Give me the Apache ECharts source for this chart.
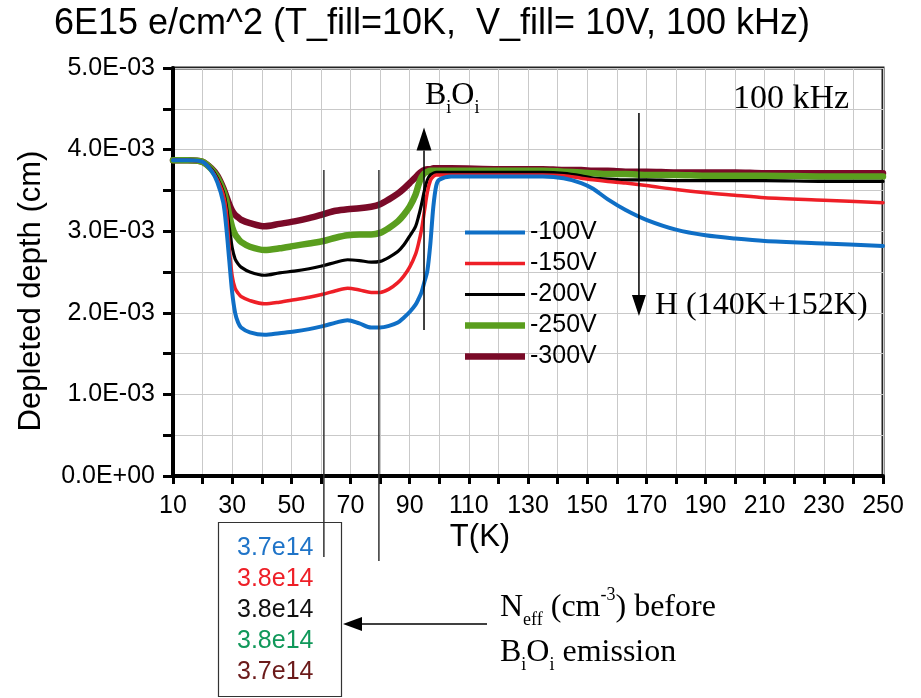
<!DOCTYPE html>
<html>
<head>
<meta charset="utf-8">
<title>Depleted depth vs temperature</title>
<script src="https://cdn.jsdelivr.net/npm/echarts@6/dist/echarts.min.js"></script>
<style>
  html, body { margin: 0; padding: 0; background: #fff; }
  #chart { width: 921px; height: 698px; }
</style>
</head>
<body>
<div id="chart"></div>
<script>
// Temperature grid (K) shared by all bias curves
const temperatures = [10, 15, 20, 23, 25, 27, 28, 29, 30, 31, 32, 33, 36, 41, 46, 51, 56, 61, 65, 69, 73,
  77, 80, 83, 86, 88, 90, 92, 93, 94, 95, 96, 97, 98, 99, 100, 104, 120, 135, 142, 148,
  152, 157, 163, 170, 180, 190, 200, 210, 230, 250];

// Depleted depth, in units of 1e-3 cm
const depth100V = [3.87, 3.87, 3.85, 3.74, 3.60, 3.35, 3.05, 2.65, 2.25, 2.00, 1.88, 1.82, 1.76, 1.73, 1.75, 1.77, 1.80, 1.84, 1.88, 1.91, 1.87,
  1.82, 1.82, 1.84, 1.88, 1.94, 2.01, 2.10, 2.17, 2.25, 2.38, 2.52, 2.85, 3.30, 3.56, 3.63, 3.67, 3.67, 3.67, 3.65, 3.59,
  3.52, 3.39, 3.26, 3.14, 3.02, 2.95, 2.91, 2.88, 2.85, 2.82];
const depth150V = [3.87, 3.87, 3.85, 3.75, 3.63, 3.45, 3.25, 2.80, 2.45, 2.30, 2.24, 2.20, 2.15, 2.11, 2.13, 2.16, 2.19, 2.23, 2.27, 2.30, 2.28,
  2.25, 2.25, 2.29, 2.37, 2.45, 2.56, 2.72, 2.85, 3.02, 3.25, 3.48, 3.62, 3.67, 3.69, 3.69, 3.69, 3.69, 3.69, 3.68, 3.65,
  3.63, 3.61, 3.59, 3.56, 3.51, 3.47, 3.44, 3.41, 3.38, 3.35];
const depth200V = [3.87, 3.87, 3.85, 3.76, 3.65, 3.48, 3.32, 3.05, 2.80, 2.66, 2.60, 2.56, 2.50, 2.46, 2.49, 2.51, 2.54, 2.58, 2.62, 2.65, 2.64,
  2.62, 2.63, 2.68, 2.75, 2.83, 2.94, 3.06, 3.18, 3.33, 3.50, 3.63, 3.69, 3.71, 3.72, 3.72, 3.72, 3.72, 3.72, 3.71, 3.68,
  3.65, 3.64, 3.63, 3.63, 3.62, 3.62, 3.62, 3.62, 3.61, 3.61];
const depth250V = [3.87, 3.87, 3.85, 3.76, 3.66, 3.50, 3.38, 3.20, 3.05, 2.96, 2.91, 2.87, 2.81, 2.77, 2.79, 2.82, 2.85, 2.88, 2.92, 2.95, 2.96,
  2.96, 2.98, 3.04, 3.12, 3.20, 3.30, 3.45, 3.57, 3.66, 3.71, 3.73, 3.74, 3.74, 3.74, 3.74, 3.74, 3.74, 3.74, 3.73, 3.72,
  3.71, 3.70, 3.70, 3.69, 3.69, 3.68, 3.68, 3.68, 3.67, 3.67];
const depth300V = [3.87, 3.87, 3.85, 3.77, 3.68, 3.53, 3.43, 3.33, 3.25, 3.20, 3.17, 3.14, 3.10, 3.06, 3.09, 3.12, 3.16, 3.21, 3.25, 3.27, 3.28,
  3.30, 3.33, 3.39, 3.46, 3.52, 3.59, 3.66, 3.70, 3.73, 3.75, 3.76, 3.76, 3.77, 3.77, 3.77, 3.77, 3.76, 3.76, 3.75, 3.75,
  3.74, 3.74, 3.73, 3.73, 3.72, 3.72, 3.72, 3.71, 3.71, 3.71];

const biasLabels = ['-100V', '-150V', '-200V', '-250V', '-300V'];
const biasDepths = [depth100V, depth150V, depth200V, depth250V, depth300V];
const biasColors = ['#0f6fc6', '#ee1f27', '#000000', '#5a9e1e', '#7a0a28'];
const biasWidths = [4, 3.5, 3.2, 6.5, 6.5];

// Effective doping before BiOi emission, one per bias
const neffLabels = ['3.7e14', '3.8e14', '3.8e14', '3.8e14', '3.7e14'];
const neffColors = ['#1f74c8', '#ee1f27', '#111111', '#10985a', '#6b1a1a'];

const CM_PER_UNIT = 1e-3;
const SANS = '"Liberation Sans", Arial, sans-serif';
const SERIF = '"Liberation Serif", "Times New Roman", serif';

const chart = echarts.init(document.getElementById('chart'));

// Draw the low-bias curves last so they sit on top where curves coincide
const series = biasLabels.map((name, k) => ({
  name,
  type: 'line',
  data: temperatures.map((t, i) => [t, biasDepths[k][i] * CM_PER_UNIT]),
  symbol: 'none',
  showSymbol: false,
  smooth: 0.3,
  lineStyle: { color: biasColors[k], width: biasWidths[k], join: 'round', cap: 'round' },
  itemStyle: { color: biasColors[k] },
  z: 10 - k
})).reverse();

// Legend swatches: flat bars as thick as each curve
const legendData = biasLabels.map((name, k) => ({
  name,
  icon: 'path://M0,0H60V' + biasWidths[k] + 'H0Z',
  itemStyle: { color: biasColors[k] }
}));

const option = {
  animation: false,
  backgroundColor: '#fff',
  title: {
    text: '6E15 e/cm^2 (T_fill=10K,  V_fill= 10V, 100 kHz)',
    left: 49, top: 1,
    textStyle: { fontFamily: SANS, fontSize: 36, fontWeight: 'normal', color: '#000' }
  },
  grid: {
    left: 173, right: 38, top: 68, bottom: 222,
    show: true, borderColor: '#222', borderWidth: 3, backgroundColor: 'transparent'
  },
  legend: {
    data: legendData,
    orient: 'vertical',
    left: 460, top: 215,
    itemWidth: 60, itemHeight: 14, itemGap: 6,
    symbolKeepAspect: true,
    textStyle: { fontFamily: SANS, fontSize: 25, color: '#000' },
    selectedMode: false
  },
  xAxis: {
    type: 'value', min: 10, max: 250, interval: 10,
    axisLine: { lineStyle: { color: '#000', width: 4 } },
    axisTick: { show: true, length: 8, lineStyle: { color: '#000', width: 3 } },
    axisLabel: {
      margin: 18, color: '#000', fontFamily: SANS, fontSize: 25,
      formatter: v => ((v - 10) % 20 === 0 ? String(v) : '')
    },
    splitLine: { show: true, lineStyle: { color: '#c9c9c9', width: 1 } }
  },
  yAxis: {
    type: 'value', min: 0, max: 0.005, interval: 0.0005,
    axisLine: { lineStyle: { color: '#000', width: 4 } },
    axisTick: { show: true, length: 10, lineStyle: { color: '#000', width: 3 } },
    axisLabel: {
      margin: 18, color: '#000', fontFamily: SANS, fontSize: 25,
      formatter: v => {
        const k = Math.round(v * 1e4);
        if (k % 10 !== 0) return '';
        if (k === 0) return '0.0E+00';
        return (k / 10).toFixed(1) + 'E-03';
      }
    },
    splitLine: { show: true, lineStyle: { color: '#c9c9c9', width: 1 } }
  },
  series
};

chart.setOption(option);

// ---- annotations ----
const toPx = (t, d) => chart.convertToPixel({ gridIndex: 0 }, [t, d * CM_PER_UNIT]);

const richSub = {
  b: { fontFamily: SERIF, fontSize: 32, lineHeight: 32, verticalAlign: 'top', padding: [6, 0, 0, 0], color: '#000' },
  s: { fontFamily: SERIF, fontSize: 18, lineHeight: 18, verticalAlign: 'top', padding: [25, 0, 0, 0], color: '#000' },
  p: { fontFamily: SERIF, fontSize: 18, lineHeight: 18, verticalAlign: 'top', padding: [0, 0, 0, 0], color: '#000' }
};

function vArrow(x, yFrom, yTip, headLen, headHalf) {
  const dir = yTip < yFrom ? 1 : -1;
  const yBase = yTip + dir * headLen;
  return [
    { type: 'line', shape: { x1: x, y1: yFrom, x2: x, y2: yBase }, style: { stroke: '#000', lineWidth: 1.5 }, z: 50 },
    { type: 'polygon', shape: { points: [[x, yTip], [x - headHalf, yBase], [x + headHalf, yBase]] }, style: { fill: '#000' }, z: 50 }
  ];
}

const guideA = toPx(61.0, 3.75);
const guideB = toPx(79.6, 3.75);
const biArrowBottom = toPx(94.85, 1.79);
const biArrowTip = toPx(94.85, 4.27);
const hArrowTop = toPx(167.5, 4.45);
const hArrowTip = toPx(167.5, 1.96);

const graphics = [
  {
    type: 'text', z: 60, rotation: Math.PI / 2, x: 31, y: 291,
    style: { text: 'Depleted depth (cm)', font: '31px ' + SANS, fill: '#000', align: 'center', verticalAlign: 'middle' }
  },
  { type: 'line', shape: { x1: guideA[0], y1: guideA[1], x2: guideA[0], y2: 557 }, style: { stroke: '#333', lineWidth: 1.5 }, z: 50 },
  { type: 'line', shape: { x1: guideB[0], y1: guideB[1], x2: guideB[0], y2: 561 }, style: { stroke: '#333', lineWidth: 1.5 }, z: 50 },
  ...vArrow(biArrowBottom[0], biArrowBottom[1], biArrowTip[1], 23, 7.5),
  ...vArrow(hArrowTop[0], hArrowTop[1], hArrowTip[1], 21, 7),
  {
    type: 'text', z: 60,
    style: { x: biArrowTip[0] + 1, y: 74, text: '{b|B}{s|i}{b|O}{s|i}', rich: richSub }
  },
  {
    type: 'text', z: 60,
    style: { x: 733, y: 99, text: '100 kHz', font: '34px ' + SERIF, fill: '#000', verticalAlign: 'middle' }
  },
  {
    type: 'text', z: 60,
    style: { x: hArrowTop[0] + 16, y: 306, text: 'H (140K+152K)', font: '32px ' + SERIF, fill: '#000', verticalAlign: 'middle' }
  },
  {
    type: 'text', z: 60,
    style: { x: 480, y: 537, text: 'T(K)', font: '31px ' + SANS, fill: '#000', align: 'center', verticalAlign: 'middle' }
  },
  // doping box
  { type: 'rect', shape: { x: 218.5, y: 522.5, width: 123, height: 174 }, style: { fill: 'none', stroke: '#333', lineWidth: 1.2 }, z: 40 },
  ...neffLabels.map((txt, i) => ({
    type: 'text', z: 60,
    style: { x: 237, y: 548 + i * 31, text: txt, font: '25px ' + SANS, fill: neffColors[i], verticalAlign: 'middle' }
  })),
  // arrow pointing at the box
  { type: 'line', shape: { x1: 487, y1: 624, x2: 362, y2: 624 }, style: { stroke: '#000', lineWidth: 1.5 }, z: 50 },
  { type: 'polygon', shape: { points: [[343, 624], [362, 617], [362, 631]] }, style: { fill: '#000' }, z: 50 },
  {
    type: 'text', z: 60,
    style: { x: 500, y: 586, text: '{b|N}{s|eff}{b| (cm}{p|-3}{b|) before}', rich: richSub }
  },
  {
    type: 'text', z: 60,
    style: { x: 500, y: 631, text: '{b|B}{s|i}{b|O}{s|i}{b| emission}', rich: richSub }
  }
];

chart.setOption({ graphic: graphics });
</script>
</body>
</html>
